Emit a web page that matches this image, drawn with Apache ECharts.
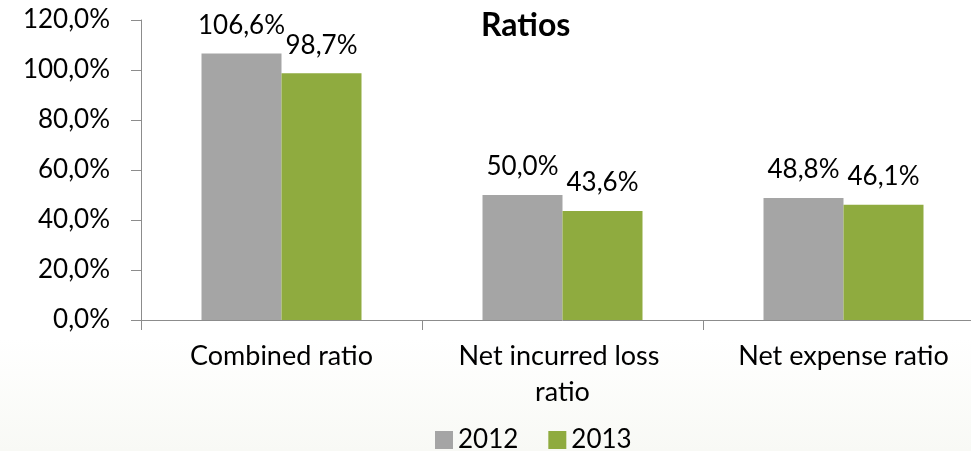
<!DOCTYPE html>
<html>
<head>
<meta charset="utf-8">
<script src="https://cdn.jsdelivr.net/npm/echarts@6/dist/echarts.min.js"></script>
<style>
  html, body { margin: 0; padding: 0; background: #ffffff; overflow: hidden; }
  #chart { width: 990px; height: 451px; }
</style>
</head>
<body>
<div id="chart"></div>
<script>
// Ratio categories and yearly values (percent)
const categories = ['Combined ratio', 'Net incurred loss ratio', 'Net expense ratio'];
const seriesNames = ['2012', '2013'];
const values2012 = [106.6, 50.0, 48.8];
const values2013 = [98.7, 43.6, 46.1];
const yTicks = [0, 20, 40, 60, 80, 100, 120];

const FONT = 'Lato';
const fmtPct = v => v.toFixed(1).replace('.', ',') + '%';

const chart = echarts.init(document.getElementById('chart'), null, { renderer: 'canvas' });

const labelStyle = {
  show: true,
  position: 'top',
  distance: 15,
  fontFamily: FONT,
  fontSize: 26,
  color: '#000',
  formatter: p => fmtPct(p.value)
};

chart.setOption({
  backgroundColor: {
    type: 'linear', x: 0, y: 0, x2: 0, y2: 1,
    colorStops: [
      { offset: 0, color: '#ffffff' },
      { offset: 0.75, color: '#ffffff' },
      { offset: 1, color: '#f8f9f5' }
    ]
  },
  animation: false,
  title: {
    text: 'Ratios',
    left: 476,
    top: 5,
    textStyle: { fontFamily: FONT, fontSize: 32, fontWeight: 'bold', color: '#000' }
  },
  legend: {
    data: seriesNames,
    left: 430,
    top: 422,
    itemWidth: 18,
    itemHeight: 18,
    itemGap: 30,
    icon: 'rect',
    textStyle: { fontFamily: FONT, fontSize: 26, color: '#000' }
  },
  grid: { left: 141, top: 20, height: 300, width: 843 },
  xAxis: {
    type: 'category',
    data: categories,
    axisLine: { show: true, lineStyle: { color: '#8c8c8c', width: 1 } },
    axisTick: { show: true, length: 10, alignWithLabel: false, lineStyle: { color: '#8c8c8c' } },
    axisLabel: {
      fontFamily: FONT, fontSize: 27, color: '#000', margin: 18,
      width: 235, overflow: 'break', lineHeight: 36, interval: 0
    }
  },
  yAxis: {
    type: 'value',
    min: yTicks[0],
    max: yTicks[yTicks.length - 1],
    interval: 20,
    splitLine: { show: false },
    axisLine: { show: true, lineStyle: { color: '#8c8c8c', width: 1 } },
    axisTick: { show: true, length: 10, lineStyle: { color: '#8c8c8c' } },
    axisLabel: {
      fontFamily: FONT, fontSize: 26, color: '#000', margin: 31,
      formatter: v => fmtPct(v)
    }
  },
  series: [
    {
      name: seriesNames[0], type: 'bar', data: values2012,
      barWidth: 80, barGap: '0%',
      itemStyle: { color: '#a5a5a5' },
      label: labelStyle
    },
    {
      name: seriesNames[1], type: 'bar', data: values2013,
      barWidth: 80, barGap: '0%',
      itemStyle: { color: '#8fab3f' },
      label: labelStyle
    }
  ]
});
</script>
</body>
</html>
